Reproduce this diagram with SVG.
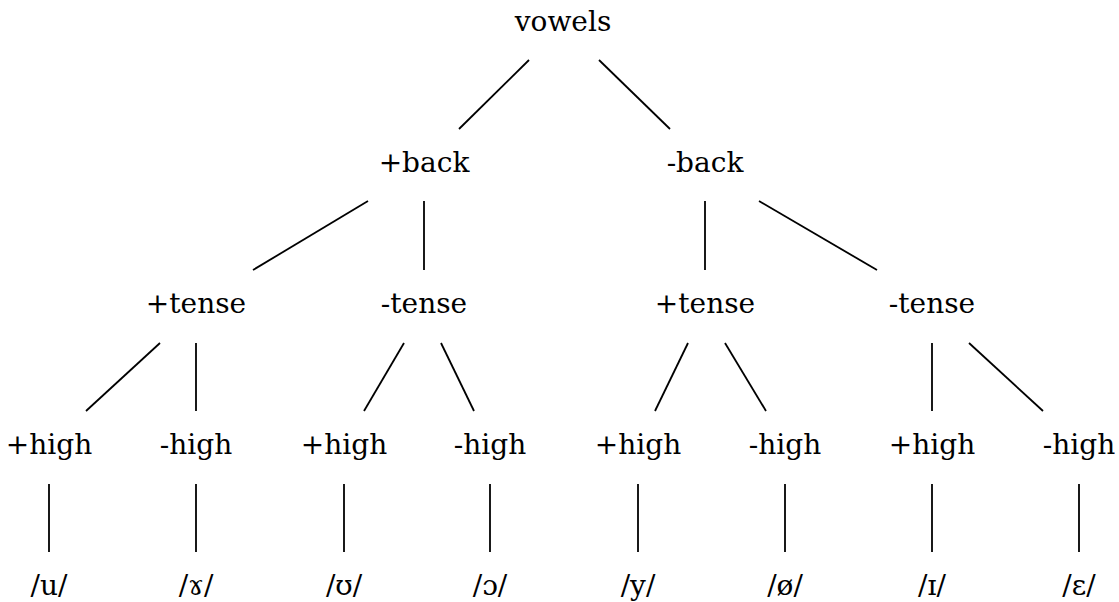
<svg xmlns="http://www.w3.org/2000/svg" width="1119" height="602" viewBox="0 0 1119 602">
  <style>
    text { font-family: "DejaVu Serif", "Liberation Serif", serif; font-size: 28px; fill: #000; text-anchor: middle; }
    .edge { stroke: #000; stroke-width: 1.8; fill: none; }
  </style>
  <rect width="1119" height="602" fill="#fff"/>

  <g id="connectors">
    <line class="edge" x1="529" y1="60" x2="459" y2="129"/>
    <line class="edge" x1="599" y1="60" x2="670" y2="129"/>
    <line class="edge" x1="368" y1="201" x2="253" y2="270"/>
    <line class="edge" x1="424" y1="201" x2="424" y2="270"/>
    <line class="edge" x1="705" y1="201" x2="705" y2="270"/>
    <line class="edge" x1="759" y1="201" x2="877" y2="270"/>
    <line class="edge" x1="160" y1="343" x2="86" y2="411"/>
    <line class="edge" x1="196" y1="343" x2="196" y2="411"/>
    <line class="edge" x1="404" y1="343" x2="364" y2="411"/>
    <line class="edge" x1="441" y1="343" x2="474" y2="411"/>
    <line class="edge" x1="688" y1="343" x2="655" y2="411"/>
    <line class="edge" x1="725" y1="343" x2="766" y2="411"/>
    <line class="edge" x1="932" y1="343" x2="932" y2="411"/>
    <line class="edge" x1="969" y1="343" x2="1043" y2="411"/>
    <line class="edge" x1="49" y1="484" x2="49" y2="552"/>
    <line class="edge" x1="196" y1="484" x2="196" y2="552"/>
    <line class="edge" x1="344" y1="484" x2="344" y2="552"/>
    <line class="edge" x1="490" y1="484" x2="490" y2="552"/>
    <line class="edge" x1="638" y1="484" x2="638" y2="552"/>
    <line class="edge" x1="785" y1="484" x2="785" y2="552"/>
    <line class="edge" x1="932" y1="484" x2="932" y2="552"/>
    <line class="edge" x1="1079" y1="484" x2="1079" y2="552"/>
  </g>

  <g id="vowels"><text x="563" y="31">vowels</text></g>

  <g id="back-plus"><text x="424" y="172">+back</text></g>
  <g id="back-minus"><text x="705" y="172">-back</text></g>

  <g id="tense-plus-1"><text x="196" y="313">+tense</text></g>
  <g id="tense-minus-1"><text x="424" y="313">-tense</text></g>
  <g id="tense-plus-2"><text x="705" y="313">+tense</text></g>
  <g id="tense-minus-2"><text x="932" y="313">-tense</text></g>

  <g id="high-plus-1"><text x="49" y="454">+high</text></g>
  <g id="high-minus-1"><text x="196" y="454">-high</text></g>
  <g id="high-plus-2"><text x="344" y="454">+high</text></g>
  <g id="high-minus-2"><text x="490" y="454">-high</text></g>
  <g id="high-plus-3"><text x="638" y="454">+high</text></g>
  <g id="high-minus-3"><text x="785" y="454">-high</text></g>
  <g id="high-plus-4"><text x="932" y="454">+high</text></g>
  <g id="high-minus-4"><text x="1079" y="454">-high</text></g>

  <g id="v-u"><text x="49" y="595">/u/</text></g>
  <g id="v-ram"><text x="196" y="595">/ɤ/</text></g>
  <g id="v-upsilon"><text x="344" y="595">/ʊ/</text></g>
  <g id="v-open-o"><text x="490" y="595">/ɔ/</text></g>
  <g id="v-y"><text x="638" y="595">/y/</text></g>
  <g id="v-oslash"><text x="785" y="595">/ø/</text></g>
  <g id="v-small-i"><text x="932" y="595">/ɪ/</text></g>
  <g id="v-epsilon"><text x="1079" y="595">/ɛ/</text></g>
</svg>
